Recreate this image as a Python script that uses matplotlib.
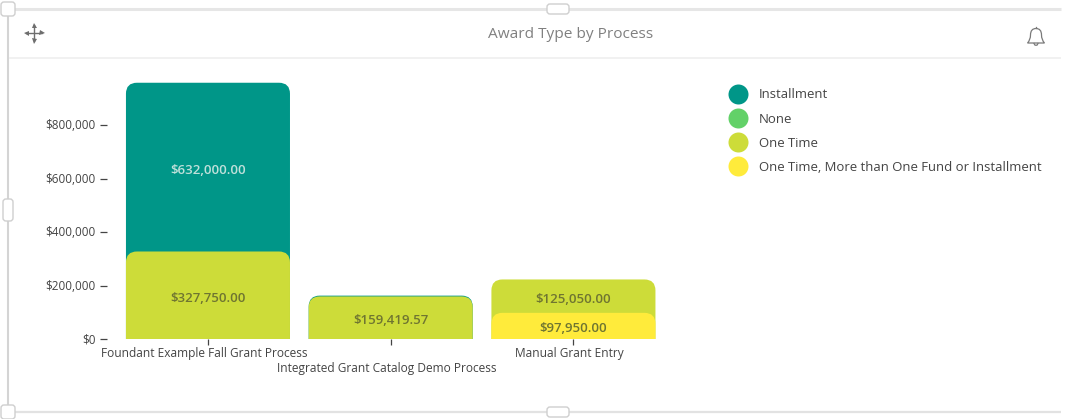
import matplotlib
matplotlib.use("Agg")
import matplotlib.pyplot as plt
from matplotlib.path import Path
from matplotlib.patches import PathPatch, FancyBboxPatch
from matplotlib.transforms import ScaledTranslation

plt.rcParams["font.family"] = ["Open Sans", "DejaVu Sans"]

W, H = 1069, 419

processes = ["Foundant Example Fall Grant Process",
             "Integrated Grant Catalog Demo Process",
             "Manual Grant Entry"]
award_types = ["Installment", "None", "One Time",
               "One Time, More than One Fund or Installment"]
colors = ["#009688", "#62d168", "#cddc39", "#ffeb3b"]

# stacking order runs bottom to top
installment = [632000.00, 3000.00, 0]
one_time = [327750.00, 159419.57, 125050.00]
one_time_multi = [0, 0, 97950.00]

y_ticks = [0, 200000, 400000, 600000, 800000]
y_tick_labels = ["$0", "$200,000", "$400,000", "$600,000", "$800,000"]

fig = plt.figure(figsize=(W / 100, H / 100), dpi=100, facecolor="white")


def px_axes(left, top, right, bottom):
    return fig.add_axes([left / W, 1 - bottom / H, (right - left) / W, (bottom - top) / H])


PX_PER_K = 0.267
ax = px_axes(116.6, 60, 664.8, 339)
ax.set_xlim(-0.5, 2.5)
ax.set_ylim(0, 279 / PX_PER_K * 1000)
ax.patch.set_alpha(0)
for side in ax.spines.values():
    side.set_visible(False)

bar_w = 164 / 182.7
rx = 11 / 182.7                 # corner radius along x, in category units
ry = 11 / PX_PER_K * 1000       # corner radius along y, in dollars


def rounded_bar(ax, x, top, color, zorder):
    # bar from the baseline up to `top`, with only the upper corners rounded
    l, r = x - bar_w / 2, x + bar_w / 2
    h = min(ry, top)
    verts = [(l, 0), (l, top - h), (l, top), (l + rx, top), (r - rx, top),
             (r, top), (r, top - h), (r, 0), (l, 0)]
    codes = [Path.MOVETO, Path.LINETO, Path.CURVE3, Path.CURVE3, Path.LINETO,
             Path.CURVE3, Path.CURVE3, Path.LINETO, Path.CLOSEPOLY]
    ax.add_patch(PathPatch(Path(verts, codes), facecolor=color, edgecolor="none", zorder=zorder))


label_dark = "#6f7531"
for i in range(len(processes)):
    b3 = one_time_multi[i]
    b2 = b3 + one_time[i]
    b1 = b2 + installment[i]
    if installment[i]:
        rounded_bar(ax, i, b1, colors[0], 2)
    rounded_bar(ax, i, b2, colors[2], 3)
    if b3:
        rounded_bar(ax, i, b3, colors[3], 4)
    segments = [(b2, b1, installment[i], "#bfe0da"),
                (b3, b2, one_time[i], label_dark),
                (0, b3, one_time_multi[i], label_dark)]
    for lo, hi, val, col in segments:
        if val >= 50000:
            ax.annotate(f"${val:,.2f}", (i, (lo + hi) / 2), xytext=(0, -2.2),
                        textcoords="offset points", ha="center", va="center",
                        fontsize=9.55, color=col, fontweight="semibold", zorder=6)

ax.set_yticks(y_ticks, y_tick_labels)
ax.tick_params(axis="y", length=4.9, width=0.9, color="#444444", pad=3,
               labelsize=8.5, labelcolor="#444444", direction="out")

# the y ticks sit a little away from the plot band
shift = ScaledTranslation(-10 / 100, 0, fig.dpi_scale_trans)
label_lift = ScaledTranslation(-10 / 100, 1 / 100, fig.dpi_scale_trans)
for t in ax.yaxis.get_major_ticks():
    t.tick1line.set_transform(t.tick1line.get_transform() + shift)
    t.label1.set_transform(t.label1.get_transform() + label_lift)

ax.set_xticks(range(3), processes)
ax.tick_params(axis="x", length=4.3, width=0.9, color="#444444", pad=1.8,
               labelsize=8.57, labelcolor="#444444")
ax.xaxis.get_major_ticks()[1].set_pad(12.6)
label_shift = ScaledTranslation(-4 / 100, 0, fig.dpi_scale_trans)
for t in ax.xaxis.get_major_ticks():
    t.label1.set_transform(t.label1.get_transform() + label_shift)

# panel furniture and legend, placed in pixel coordinates
ov = fig.add_axes([0, 0, 1, 1], zorder=10)
ov.set_xlim(0, W)
ov.set_ylim(H, 0)
ov.axis("off")
ov.patch.set_alpha(0)

ov.plot([8, 1061], [9, 9], color="#e6e6e6", lw=2.2, solid_capstyle="butt")
ov.plot([8, 1061], [412, 412], color="#e2e2e2", lw=1.6, solid_capstyle="butt")
ov.plot([8, 8], [9, 412], color="#d4d4d4", lw=1.5, solid_capstyle="butt")
ov.plot([9, 1061], [58, 58], color="#eeeeee", lw=1.1, solid_capstyle="butt")

for cx, cy, w, h in [(8, 9, 14, 14), (8, 412, 14, 14), (558, 9, 22, 10),
                     (558, 412, 22, 10), (8, 210, 10, 22)]:
    ov.add_patch(FancyBboxPatch((cx - w / 2 + 2, cy - h / 2 + 2), w - 4, h - 4,
                                boxstyle="round,pad=2,rounding_size=3",
                                fc="white", ec="#cfcfcf", lw=1, zorder=3))

ov.text(571, 35, "Award Type by Process", ha="center", va="center",
        fontsize=11.1, color="#808080")

# move handle
mc = "#6e6e6e"
ov.plot([26, 42], [33, 33], color=mc, lw=1.0)
ov.plot([34, 34], [25, 41], color=mc, lw=1.0)
for dx, dy, mk in [(-8, 0, "<"), (8, 0, ">"), (0, -8, "^"), (0, 8, "v")]:
    ov.plot([34 + dx], [33 + dy], marker=mk, ms=3.6, color=mc, mew=0)

# notification bell
bell_v = [(1027.5, 43), (1030.5, 40), (1030.5, 35), (1030.5, 28.5), (1036, 28.5),
          (1041.5, 28.5), (1041.5, 35), (1041.5, 40), (1044.5, 43), (1027.5, 43)]
bell_c = [Path.MOVETO, Path.CURVE3, Path.CURVE3, Path.CURVE3, Path.CURVE3, Path.CURVE3,
          Path.CURVE3, Path.CURVE3, Path.CURVE3, Path.CLOSEPOLY]
ov.add_patch(PathPatch(Path(bell_v, bell_c), fc="none", ec="#7a7a7a", lw=0.9))
ov.plot([1036, 1036], [27, 28.5], color="#7a7a7a", lw=0.9)
ov.plot([1034, 1035, 1037, 1038], [43.5, 45.2, 45.2, 43.5], color="#7a7a7a", lw=0.9)

for name, col, y in zip(award_types, colors, [94, 118, 142, 166]):
    ov.scatter([738], [y], s=(20 * 0.72) ** 2, color=col, linewidths=0)
    ov.text(759, y + 1, name, ha="left", va="center", fontsize=9.47, color="#444444")

fig.savefig("out.png", dpi=100)
